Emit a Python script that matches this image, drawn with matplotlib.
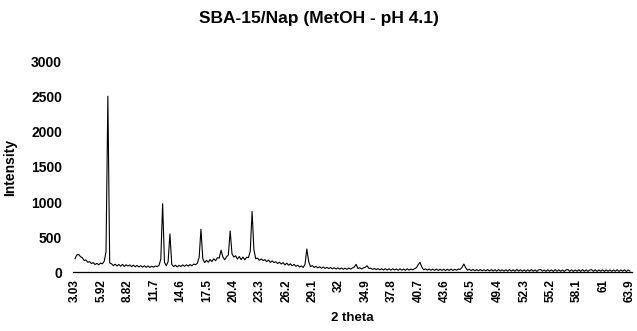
import matplotlib.pyplot as plt
import numpy as np

plt.rcParams['font.family'] = ['Liberation Sans', 'DejaVu Sans']
plt.rcParams['font.weight'] = 'bold'

# XRD scan, 3.03 -> 63.9 deg, ~0.2 deg step
intensity = [
    190, 245, 252, 220, 205, 165, 172, 140, 150, 122,
    135, 108, 125, 104, 128, 118, 155, 290, 2510, 130,
    118, 92, 112, 88, 108, 84, 110, 80, 104, 86,
    102, 78, 98, 76, 95, 72, 92, 70, 90, 68,
    88, 66, 84, 70, 86, 78, 95, 185, 975, 140,
    90, 150, 545, 110, 78, 98, 74, 96, 80, 102,
    82, 104, 86, 108, 90, 114, 105, 125, 210, 612,
    190, 135, 168, 140, 180, 150, 190, 162, 205, 200,
    312, 215, 175, 218, 245, 588, 260, 215, 232, 185,
    222, 178, 215, 175, 212, 205, 300, 865, 320, 190,
    200, 168, 188, 165, 178, 150, 172, 138, 160, 135,
    148, 122, 140, 115, 135, 102, 128, 98, 118, 90,
    110, 82, 98, 72, 88, 65, 110, 330, 150, 78,
    92, 66, 82, 60, 76, 56, 72, 52, 68, 50,
    66, 46, 62, 44, 60, 42, 58, 40, 56, 38,
    58, 42, 60, 72, 110, 50, 62, 44, 60, 68,
    90, 52, 56, 38, 52, 34, 50, 32, 48, 30,
    48, 30, 46, 28, 47, 30, 45, 27, 46, 28,
    44, 26, 46, 28, 44, 32, 48, 62, 105, 138,
    70, 32, 46, 28, 44, 26, 42, 25, 43, 24,
    40, 24, 41, 22, 40, 24, 42, 23, 40, 26,
    44, 38, 68, 115, 62, 28, 40, 22, 38, 20,
    36, 19, 37, 18, 34, 17, 36, 16, 35, 15,
    34, 14, 35, 15, 33, 14, 34, 13, 36, 14,
    33, 12, 38, 14, 34, 12, 32, 11, 33, 12,
    36, 12, 31, 10, 32, 38, 14, 30, 11, 33,
    12, 31, 10, 35, 12, 32, 11, 30, 10, 31,
    36, 11, 32, 10, 30, 12, 33, 10, 34, 11,
    31, 10, 30, 34, 11, 32, 10, 30, 12, 33,
    10, 31, 11, 32, 10, 30, 12, 33, 10, 31,
    12, 32, 10, 30, 14,
]
two_theta = np.linspace(3.03, 63.9, len(intensity))

tick_vals = [3.03, 5.92, 8.82, 11.7, 14.6, 17.5, 20.4, 23.3, 26.2, 29.1, 32,
             34.9, 37.8, 40.7, 43.6, 46.5, 49.4, 52.3, 55.2, 58.1, 61, 63.9]
tick_labels = ['3.03', '5.92', '8.82', '11.7', '14.6', '17.5', '20.4', '23.3',
               '26.2', '29.1', '32', '34.9', '37.8', '40.7', '43.6', '46.5',
               '49.4', '52.3', '55.2', '58.1', '61', '63.9']

fig = plt.figure(figsize=(6.37, 3.31), dpi=100)
ax = fig.add_axes([0.1146, 0.178, 0.8775, 0.635])

ax.plot(two_theta, intensity, color='black', lw=0.8)

ax.set_xlim(2.81, 64.12)
ax.set_ylim(0, 3000)
ax.set_yticks([0, 500, 1000, 1500, 2000, 2500, 3000])
ax.set_xticks(tick_vals)
ax.set_xticklabels(tick_labels, rotation=90, fontsize=8.5, fontweight='bold')
ax.tick_params(axis='y', length=0, pad=8, labelsize=10)
ax.tick_params(axis='x', length=0, pad=5)

for s in ['top', 'right', 'left']:
    ax.spines[s].set_visible(False)
ax.spines['bottom'].set_linewidth(0.9)

ax.set_ylabel('Intensity', fontsize=10, fontweight='bold')
ax.yaxis.set_label_coords(-0.1, 0.5)
ax.set_xlabel('2 theta', fontsize=9.5, fontweight='bold')
ax.xaxis.set_label_coords(0.5, -0.19)

fig.suptitle('SBA-15/Nap (MetOH - pH 4.1)', y=0.943, va='center',
             fontsize=12.5, fontweight='bold')

fig.savefig('out.png', dpi=100)
